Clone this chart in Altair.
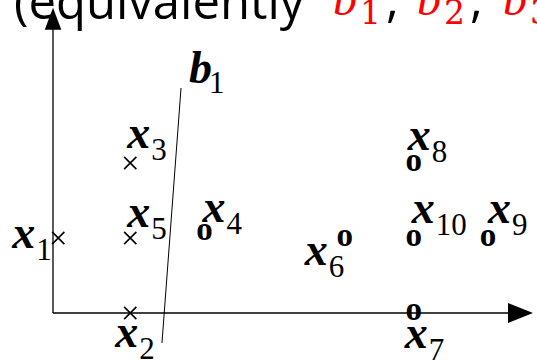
import altair as alt
import pandas as pd

# Sample points x1..x10 in grid units (one unit = one grid step)
point_ids = ["1", "2", "3", "4", "5", "6", "7", "8", "9", "10"]
point_u = [0.07, 1.03, 1.03, 2.02, 1.03, 3.89, 4.81, 4.81, 5.80, 4.81]
point_v = [1.00, 0.00, 2.00, 1.07, 1.00, 1.00, 0.01, 2.00, 1.00, 1.00]
point_class = ["x", "x", "x", "o", "x", "o", "o", "o", "o", "o"]

# Decision boundary b1 (two end points, grid units)
boundary_u = [1.707, 1.453]
boundary_v = [3.00, -0.40]

# Axis extents (grid units)
axis_x_end = 6.40
axis_y_end = 4.07

# Heading pieces
heading_text = "(equivalently "
heading_vars = ["b", "b", "b"]
heading_subs = ["1", "2", "3"]

# ---- layout ----
STEP = 75.0             # pixels per grid unit
U0, U1 = -53 / STEP, 484 / STEP
V0, V1 = -48 / STEP, 313 / STEP
SERIF = "Liberation Serif"
DIGITS = "DejaVu Serif"
SANS = "Open Sans"

# label anchor offsets from each point, in pixels (right, down)
label_off = {
    "1": (-46, 10), "2": (-15, 34), "3": (-3, -15), "4": (-2, -11),
    "5": (-3, -11), "6": (-40, 27), "7": (-9, 36), "8": (-6, -13),
    "9": (0, -15), "10": (-2, -15),
}

xs = alt.Scale(domain=[U0, U1], nice=False, zero=False)
ys = alt.Scale(domain=[V0, V1], nice=False, zero=False)


def X(field="u", **kw):
    return alt.X(f"{field}:Q", scale=xs, axis=None, **kw)


def Y(field="v", **kw):
    return alt.Y(f"{field}:Q", scale=ys, axis=None, **kw)


def px_to_u(px):
    return (px - 53) / STEP


def py_to_v(py):
    return (313 - py) / STEP


pts = pd.DataFrame({"id": point_ids, "u": point_u, "v": point_v, "cls": point_class})
pts["lu"] = [u + label_off[i][0] / STEP for i, u in zip(point_ids, point_u)]
pts["lv"] = [v - label_off[i][1] / STEP for i, v in zip(point_ids, point_v)]
pts["main"] = "x"

axes_df = pd.DataFrame({
    "u": [0.0, 0.0], "v": [0.0, 0.0],
    "u2": [axis_x_end - 0.1, 0.0], "v2": [0.0, axis_y_end - 0.1],
})
axes = alt.Chart(axes_df).mark_rule(color="black", strokeWidth=1.3).encode(
    x=X(), y=Y(), x2="u2:Q", y2="v2:Q")

bnd_df = pd.DataFrame({"u": [boundary_u[0]], "v": [boundary_v[0]],
                       "u2": [boundary_u[1]], "v2": [boundary_v[1]]})
boundary = alt.Chart(bnd_df).mark_rule(color="black", strokeWidth=1).encode(
    x=X(), y=Y(), x2="u2:Q", y2="v2:Q")

head_r = alt.Chart(pd.DataFrame({"u": [axis_x_end - 12.5 / STEP], "v": [0.0]})).mark_point(
    shape="M-1,-0.8L1,0L-1,0.8Z", size=625, filled=True, color="black", opacity=1
).encode(x=X(), y=Y())
head_u = alt.Chart(pd.DataFrame({"u": [0.0], "v": [axis_y_end - 11 / STEP]})).mark_point(
    shape="M-0.75,1L0,-1L0.75,1Z", size=484, filled=True, color="black", opacity=1
).encode(x=X(), y=Y())

crosses = alt.Chart(pts[pts.cls == "x"]).mark_point(
    shape="M-1,-1L1,1M1,-1L-1,1", size=150, filled=False, color="black",
    strokeWidth=1.6, opacity=1
).encode(x=X(), y=Y())

circles = alt.Chart(pts[pts.cls == "o"]).mark_text(
    text="o", font=SERIF, fontWeight="bold", fontSize=33,
    align="center", baseline="alphabetic", dy=7.5, color="black"
).encode(x=X(), y=Y())

lab_main = alt.Chart(pts).mark_text(
    font=SERIF, fontStyle="italic", fontWeight="bold", fontSize=46,
    align="left", baseline="alphabetic", color="black"
).encode(x=X("lu"), y=Y("lv"), text="main:N")

lab_sub = alt.Chart(pts).mark_text(
    font=SERIF, fontSize=31, dx=24, dy=12,
    align="left", baseline="alphabetic", color="black"
).encode(x=X("lu"), y=Y("lv"), text="id:N")

b_df = pd.DataFrame({"u": [px_to_u(189)], "v": [py_to_v(83)], "t": ["b"], "s": ["1"]})
b_main = alt.Chart(b_df).mark_text(
    font=SERIF, fontStyle="italic", fontWeight="bold", fontSize=46,
    align="left", baseline="alphabetic", color="black"
).encode(x=X(), y=Y(), text="t:N")
b_sub = alt.Chart(b_df).mark_text(
    font=SERIF, fontSize=31, dx=20, dy=10,
    align="left", baseline="alphabetic", color="black"
).encode(x=X(), y=Y(), text="s:N")

# heading line at the top
head_df = pd.DataFrame({"u": [px_to_u(14)], "v": [py_to_v(19)], "t": [heading_text]})
heading = alt.Chart(head_df).mark_text(
    font=SANS, fontSize=49, align="left", baseline="alphabetic", color="black"
).encode(x=X(), y=Y(), text="t:N")

var_df = pd.DataFrame({
    "u": [px_to_u(p) for p in (333, 417, 503)],
    "v": [py_to_v(15)] * 3,
    "t": heading_vars, "s": heading_subs,
})
hvars = alt.Chart(var_df).mark_text(
    font=SERIF, fontStyle="italic", fontSize=48,
    align="left", baseline="alphabetic", color="#ff0000"
).encode(x=X(), y=Y(), text="t:N")
hsubs = alt.Chart(var_df).mark_text(
    font=DIGITS, fontSize=33, dx=27, dy=9,
    align="left", baseline="alphabetic", color="#ff0000"
).encode(x=X(), y=Y(), text="s:N")
comma_df = var_df.iloc[:2].assign(c=",")
hcommas = alt.Chart(comma_df).mark_text(
    font=SANS, fontSize=49, dx=53, dy=2,
    align="left", baseline="alphabetic", color="black"
).encode(x=X(), y=Y(), text="c:N")

chart = alt.layer(
    axes, boundary, head_r, head_u, crosses, circles,
    lab_main, lab_sub, b_main, b_sub, heading, hvars, hsubs, hcommas
).properties(width=537, height=361, padding=0, autosize="none", background="white"
).configure_view(stroke=None)

chart.save("out.html", embed_options={"renderer": "svg", "actions": False})
